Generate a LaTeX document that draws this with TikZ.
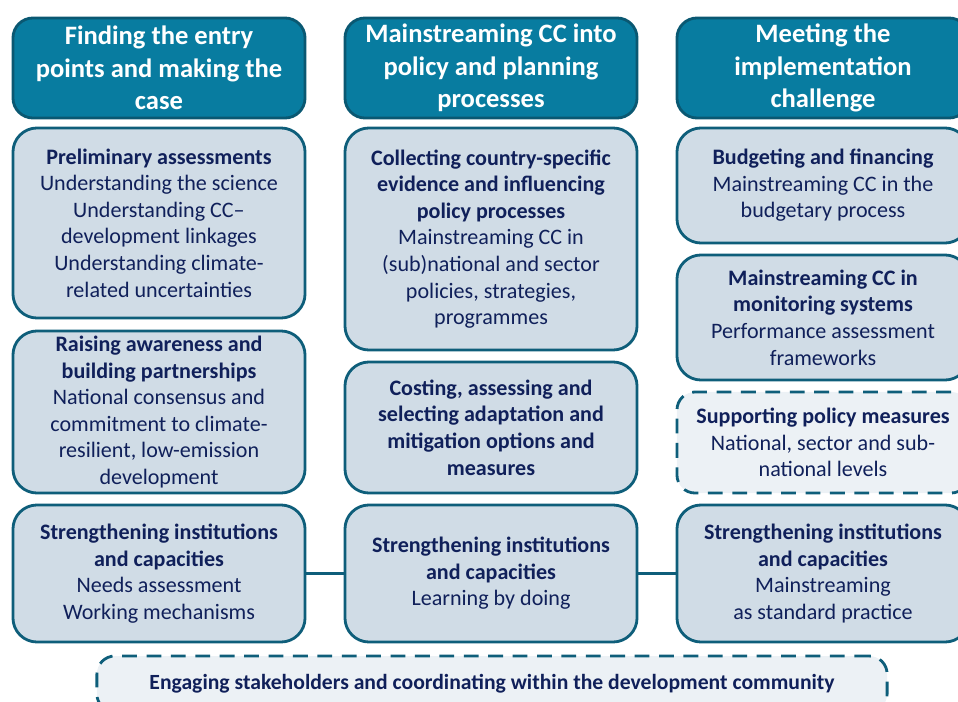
\documentclass[tikz,border=0pt]{standalone}
\usepackage{fontspec}
\setmainfont{Carlito}
\definecolor{headfill}{RGB}{8,124,160}
\definecolor{headline}{RGB}{10,88,114}
\definecolor{boxfill}{RGB}{208,220,230}
\definecolor{boxline}{RGB}{14,94,122}
\definecolor{lightfill}{RGB}{236,241,245}
\definecolor{navy}{RGB}{16,32,90}

\begin{document}
\begin{tikzpicture}
  [x=0.025cm,y=-0.025cm,
   head/.style={rectangle,rounded corners=0.5cm,draw=headline,line width=2pt,fill=headfill,
     text=white,align=center,font=\fontsize{18.9}{23.2}\selectfont\bfseries,
     minimum width=7.3cm,minimum height=2.5cm,inner sep=0pt},
   stage/.style={rectangle,rounded corners=0.6cm,draw=boxline,line width=2pt,fill=boxfill,
     text=navy,align=center,font=\fontsize{15.7}{18.9}\selectfont,
     minimum width=7.3cm,inner sep=0pt},
   dashbox/.style={stage,fill=lightfill,rounded corners=0.45cm,dash pattern=on 0.37cm off 0.24cm}]
    \useasboundingbox (0,0) rectangle (958,702);

    \node (h1) [head] at (159,68) {Finding the entry\\points and making the\\case};
    \node (h2) [head] at (491,68) {Mainstreaming CC into\\policy and planning\\processes};
    \node (h3) [head] at (823,68) {Meeting the\\implementation\\challenge};

    \node (a1) [stage,minimum height=4.75cm] at (159,223)
      {\textbf{Preliminary assessments}\\Understanding the science\\Understanding CC--\\development linkages\\Understanding climate-\\related uncertainties};
    \node (a2) [stage,minimum height=4.05cm] at (159,412)
      {\textbf{Raising awareness and}\\\textbf{building partnerships}\\National consensus and\\commitment to climate-\\resilient, low-emission\\development};
    \node (a3) [stage,minimum height=3.425cm] at (159,573.5)
      {\textbf{Strengthening institutions}\\\textbf{and capacities}\\Needs assessment\\Working mechanisms};

    \node (b1) [stage,minimum height=5.55cm] at (491,239)
      {\textbf{Collecting country-specific}\\\textbf{evidence and influencing}\\\textbf{policy processes}\\Mainstreaming CC in\\(sub)national and sector\\policies, strategies,\\programmes};
    \node (b2) [stage,minimum height=3.275cm] at (491,427.5)
      {\textbf{Costing, assessing and}\\\textbf{selecting adaptation and}\\\textbf{mitigation options and}\\\textbf{measures}};
    \node (b3) [stage,minimum height=3.425cm] at (491,573.5)
      {\textbf{Strengthening institutions}\\\textbf{and capacities}\\Learning by doing};

    \node (c1) [stage,minimum height=2.875cm] at (823,185.5)
      {\textbf{Budgeting and financing}\\Mainstreaming CC in the\\budgetary process};
    \node (c2) [stage,minimum height=3.125cm] at (823,317.5)
      {\textbf{Mainstreaming CC in}\\\textbf{monitoring systems}\\Performance assessment\\frameworks};
    \node (c3) [dashbox,minimum height=2.525cm] at (823,442.5)
      {\textbf{Supporting policy measures}\\National, sector and sub-\\national levels};
    \node (c4) [stage,minimum height=3.425cm] at (823,573.5)
      {\textbf{Strengthening institutions}\\\textbf{and capacities}\\Mainstreaming\\as standard practice};

    \node (eng) [dashbox,minimum width=19.75cm,minimum height=1.4cm,
      font=\fontsize{15.4}{18}\selectfont\bfseries] at (492,684)
      {Engaging stakeholders and coordinating within the development community};

    \foreach \from/\to in {a3/b3,b3/c4}
      \draw[boxline,line width=2pt] (\from) -- (\to);
  \end{tikzpicture}
\end{document}
